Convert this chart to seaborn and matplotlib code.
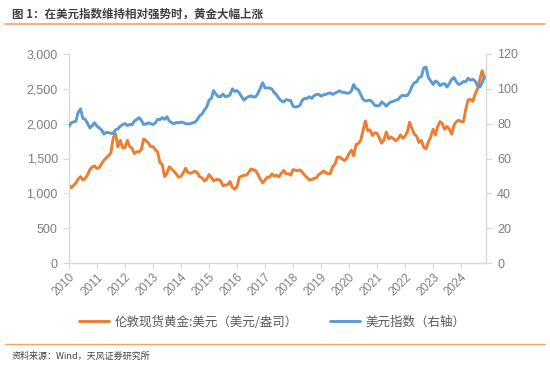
import numpy as np
import pandas as pd
import matplotlib
matplotlib.use("Agg")
import matplotlib.pyplot as plt
import matplotlib.dates as mdates
import seaborn as sns

# ---- data (monthly) ----
gold = [
    1118, 1080, 1113, 1149, 1205, 1240, 1193, 1215, 1271, 1342, 1380, 1391,
    1356, 1372, 1424, 1474, 1510, 1540, 1580, 1800, 1850, 1665, 1760, 1652,
    1656, 1760, 1673, 1650, 1570, 1596, 1594, 1630, 1780, 1757, 1721, 1670,
    1671, 1627, 1593, 1440, 1414, 1240, 1286, 1380, 1349, 1316, 1275, 1230,
    1244, 1300, 1360, 1299, 1287, 1300, 1320, 1296, 1239, 1222, 1180, 1201,
    1270, 1227, 1179, 1198, 1199, 1181, 1110, 1118, 1125, 1170, 1086, 1060,
    1097, 1230, 1246, 1260, 1260, 1300, 1350, 1340, 1326, 1267, 1200, 1150,
    1192, 1234, 1231, 1280, 1246, 1260, 1236, 1290, 1330, 1280, 1282, 1260,
    1340, 1331, 1325, 1335, 1303, 1260, 1230, 1190, 1198, 1215, 1221, 1270,
    1292, 1320, 1301, 1280, 1284, 1380, 1420, 1520, 1520, 1495, 1470, 1500,
    1570, 1620, 1540, 1700, 1716, 1760, 1900, 2040, 1900, 1910, 1830, 1870,
    1860, 1790, 1720, 1770, 1880, 1780, 1810, 1785, 1755, 1780, 1840, 1790,
    1820, 1890, 2020, 1930, 1849, 1820, 1730, 1760, 1660, 1640, 1740, 1810,
    1920, 1840, 1960, 2030, 2000, 1920, 1960, 1920, 1850, 1980, 2030, 2050,
    2030, 2030, 2200, 2340, 2350, 2320, 2420, 2500, 2630, 2760, 2650,
]
dxy = [
    78.5, 80.5, 81.0, 81.5, 86.5, 88.5, 83.0, 82.5, 80.0, 77.5, 79.0, 80.5,
    78.5, 77.5, 76.5, 74.0, 75.0, 74.8, 74.5, 74.3, 76.5, 77.0, 78.5, 79.5,
    80.0, 79.0, 79.5, 79.3, 81.5, 82.3, 83.5, 82.0, 79.5, 79.8, 80.5, 80.0,
    79.5, 80.5, 82.5, 82.3, 83.5, 82.5, 84.0, 81.5, 80.5, 80.0, 80.7, 80.4,
    80.9, 80.6, 80.0, 79.8, 80.0, 80.5, 80.8, 82.3, 84.5, 85.5, 87.8, 89.5,
    93.5, 94.5, 99.0, 97.0, 95.5, 95.5, 97.0, 95.5, 95.8, 96.5, 100.0, 98.5,
    99.0, 97.5, 95.5, 93.5, 94.8, 95.5, 96.0, 95.3, 95.5, 97.5, 100.5, 103.5,
    100.5, 100.5, 100.5, 99.8, 97.8, 96.5, 94.5, 93.0, 92.5, 93.8, 93.5, 93.2,
    90.0, 89.5, 89.8, 90.5, 93.5, 94.5, 94.5, 95.5, 94.5, 96.0, 96.8, 96.8,
    95.8, 96.5, 96.8, 97.3, 97.7, 96.8, 97.5, 98.2, 98.9, 98.0, 98.0, 97.5,
    97.5, 98.8, 102.5, 100.0, 99.5, 96.8, 94.0, 93.0, 93.3, 93.5, 92.3, 90.5,
    90.2, 90.5, 92.5, 91.5, 90.0, 91.5, 92.5, 92.8, 93.5, 93.8, 95.5, 96.3,
    96.0, 96.2, 98.2, 101.5, 103.5, 104.0, 106.5, 107.0, 112.0, 112.5, 106.5, 104.5,
    102.5, 104.5, 103.8, 101.8, 102.7, 103.0, 101.0, 103.0, 105.5, 106.5, 104.0, 102.5,
    103.0, 104.2, 104.0, 106.0, 105.0, 105.5, 104.5, 102.0, 101.0, 103.5, 107.0,
]
dates = pd.date_range("2010-01-01", periods=len(gold), freq="MS")
years = list(range(2010, 2025))
left_ticks = [0, 500, 1000, 1500, 2000, 2500, 3000]
right_ticks = [0, 20, 40, 60, 80, 100, 120]

title = "图 1：在美元指数维持相对强势时，黄金大幅上涨"
label_gold = "伦敦现货黄金:美元（美元/盎司）"
label_dxy = "美元指数（右轴）"
source = "资料来源：Wind，天风证券研究所"

df = pd.DataFrame({"date": dates, "gold": gold, "dxy": dxy})

sns.set_theme(style="white")
plt.rcParams["font.family"] = ["Liberation Sans", "Noto Sans CJK SC", "DejaVu Sans"]
cjk = ["Noto Sans CJK SC", "DejaVu Sans"]

ORANGE = "#ED7D31"
BLUE = "#5B9BD5"
TICKC = "#7F7F7F"
SPINEC = "#D9D9D9"

fig = plt.figure(figsize=(5.5, 3.67), dpi=100)
ax = fig.add_axes([69 / 550, 1 - 263 / 367, (486 - 69) / 550, (263 - 54) / 367])
ax2 = ax.twinx()

sns.lineplot(data=df, x="date", y="gold", ax=ax, color=ORANGE, lw=2.1, label=label_gold, legend=False)
sns.lineplot(data=df, x="date", y="dxy", ax=ax2, color=BLUE, lw=2.1, label=label_dxy, legend=False)

ax.set_xlim(dates[0], dates[-1] + pd.Timedelta(days=20))
ax.set_ylim(0, 3000)
ax2.set_ylim(0, 120)
ax.set_yticks(left_ticks)
ax.set_yticklabels([f"{v:,}" for v in left_ticks])
ax2.set_yticks(right_ticks)
ax2.set_yticklabels([str(v) for v in right_ticks])
ax.set_xticks([pd.Timestamp(f"{y}-01-01") for y in years])
ax.set_xticklabels([str(y) for y in years], rotation=45, ha="right", rotation_mode="anchor")

for a in (ax, ax2):
    a.set_xlabel("")
    a.set_ylabel("")
    a.grid(False)
    a.spines["top"].set_visible(False)
    for s in ("left", "right", "bottom"):
        a.spines[s].set_color(SPINEC)
        a.spines[s].set_linewidth(1.0)
ax.spines["right"].set_visible(False)
ax2.spines["left"].set_visible(False)
ax2.spines["bottom"].set_visible(False)

ax.tick_params(axis="y", which="both", left=True, length=4, width=0.8, color=SPINEC,
               labelsize=9, labelcolor=TICKC, pad=4)
ax2.tick_params(axis="y", which="both", right=True, length=4, width=0.8, color=SPINEC,
                labelsize=9, labelcolor=TICKC, pad=4)
ax.tick_params(axis="x", bottom=True, length=4, width=0.8, color=SPINEC,
               labelsize=8.5, labelcolor=TICKC, pad=2)

# legend
h1, l1 = ax.get_legend_handles_labels()
h2, l2 = ax2.get_legend_handles_labels()
fig.legend(h1 + h2, l1 + l2, loc="center", bbox_to_anchor=(0.495, 1 - 322 / 367),
           ncol=2, frameon=False, handlelength=2.4, columnspacing=2.6, handletextpad=0.4,
           prop={"family": cjk, "size": 9}, labelcolor="#595959")

# title, separators, source
fig.text(12 / 550, 1 - 14 / 367, title, ha="left", va="center", fontsize=8.3,
         fontweight="bold", color="#404040", family=cjk)
fig.add_artist(plt.Line2D([5 / 550, 545 / 550], [1 - 24 / 367] * 2, color="#F4A460", lw=1.2))
fig.add_artist(plt.Line2D([5 / 550, 545 / 550], [1 - 344 / 367] * 2, color="#F4A460", lw=1.0))
fig.text(12 / 550, 1 - 356 / 367, source, ha="left", va="center", fontsize=6.5,
         color="#404040", family=cjk)

fig.savefig("out.png", dpi=100)
